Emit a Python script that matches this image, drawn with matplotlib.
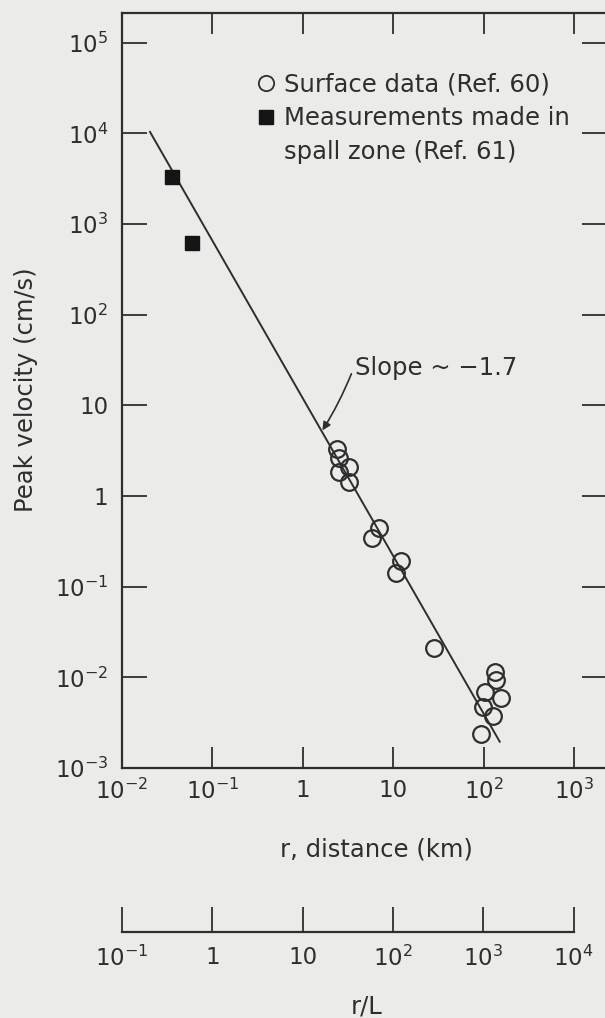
import matplotlib
matplotlib.use("Agg")
import matplotlib.pyplot as plt
from matplotlib.lines import Line2D

# values
spall_r = [0.036, 0.059]            # km
spall_v = [3300, 620]               # cm/s
surf_r = [2.37, 2.51, 3.27, 2.51, 3.27, 7.05, 5.9, 12.1, 10.7, 28,
          134, 139, 104, 155, 98, 127, 93]
surf_v = [3.27, 2.63, 2.1, 1.85, 1.43, 0.44, 0.342, 0.192, 0.14, 0.0212,
          0.0115, 0.0093, 0.0069, 0.0059, 0.0047, 0.0037, 0.0024]
fit_r = [0.0204, 151]
fit_v = [1.04e4, 1.95e-3]

x_ticks = [1e-2, 1e-1, 1, 10, 1e2, 1e3]
x_labels = ["$10^{-2}$", "$10^{-1}$", "1", "10", "$10^{2}$", "$10^{3}$"]
y_ticks = [1e-3, 1e-2, 1e-1, 1, 10, 1e2, 1e3, 1e4, 1e5]
y_labels = ["$10^{-3}$", "$10^{-2}$", "$10^{-1}$", "1", "10",
            "$10^{2}$", "$10^{3}$", "$10^{4}$", "$10^{5}$"]
rl_ticks = [1e-1, 1, 10, 1e2, 1e3, 1e4]
rl_labels = ["$10^{-1}$", "1", "10", "$10^{2}$", "$10^{3}$", "$10^{4}$"]

bg = "#ebebe9"
ink = "#2e2e2e"

plt.rcParams["font.family"] = ["DejaVu Sans"]
plt.rcParams["mathtext.default"] = "regular"
plt.rcParams["text.color"] = ink

W, H = 605, 1018
fig = plt.figure(figsize=(W / 100, H / 100), dpi=100, facecolor=bg)

# main axes (pixel box of the scan: left 122, right ~607, top 13, bottom 768)
ax = fig.add_axes([122 / W, 1 - 768 / H, (607 - 122) / W, (768 - 13) / H])
ax.set_facecolor(bg)
ax.set_xscale("log")
ax.set_yscale("log")
ax.set_xlim(1e-2, 2320)
ax.set_ylim(1e-3, 2.13e5)

ax.plot(fit_r, fit_v, color=ink, lw=1.4)
ax.plot(surf_r, surf_v, "o", ms=12, mfc="none", mec=ink, mew=1.6)
ax.plot(spall_r, spall_v, "s", ms=10.5, color="#151515")

ax.annotate("Slope ~ \u22121.7", xy=(1.65, 5.3), xytext=(3.75, 26),
            ha="left", va="center", fontsize=17.5, color=ink,
            arrowprops=dict(arrowstyle="-|>", color=ink, lw=1.2,
                            shrinkA=1, shrinkB=0, mutation_scale=12,
                            relpos=(0, 0.6),
                            connectionstyle="arc3,rad=-0.05"))

ax.set_xticks(x_ticks)
ax.set_xticklabels(x_labels)
ax.set_yticks(y_ticks)
ax.set_yticklabels(y_labels)
ax.minorticks_off()
ax.tick_params(axis="both", which="major", direction="in", color=ink,
               labelcolor=ink, labelsize=16.5, width=1.3,
               top=True, right=True)
ax.tick_params(axis="y", length=18, pad=10)
ax.tick_params(axis="x", length=15, pad=8)
for sp in ax.spines.values():
    sp.set_color(ink)
    sp.set_linewidth(1.6)

# legend, second label split over two lines
handles = [Line2D([], [], ls="none", marker="o", ms=11, mfc="none", mec=ink, mew=1.3),
           Line2D([], [], ls="none", marker="s", ms=10, color="#151515"),
           Line2D([], [], ls="none")]
labels = ["Surface data (Ref. 60)", "Measurements made in", "spall zone (Ref. 61)"]
ax.legend(handles, labels, loc="upper left", bbox_to_anchor=(0.276, 0.921),
          frameon=False, fontsize=17.5, handlelength=0.8, handletextpad=0.35,
          labelspacing=0.4, borderpad=0, borderaxespad=0, labelcolor=ink)

fig.text(26 / W, 1 - 390 / H, "Peak velocity (cm/s)", rotation=90,
         ha="center", va="center", fontsize=17.5, color=ink)
fig.text(376 / W, 1 - 850 / H, "r, distance (km)",
         ha="center", va="center", fontsize=17.5, color=ink)

# second scale r/L below
ax2 = fig.add_axes([122 / W, 1 - 932 / H, (573.5 - 122) / W, 0.02])
ax2.set_facecolor("none")
ax2.set_xscale("log")
ax2.set_xlim(rl_ticks[0], rl_ticks[-1])
ax2.set_xticks(rl_ticks)
ax2.set_xticklabels(rl_labels)
ax2.minorticks_off()
ax2.set_yticks([])
for side in ["top", "left", "right"]:
    ax2.spines[side].set_visible(False)
ax2.spines["bottom"].set_color(ink)
ax2.spines["bottom"].set_linewidth(1.6)
ax2.tick_params(axis="x", direction="in", length=18, width=1.3, color=ink,
                labelcolor=ink, labelsize=16.5, pad=10)
fig.text(367 / W, 1 - 1006 / H, "r/L", ha="center", va="center",
         fontsize=17.5, color=ink)

fig.savefig("out.png", dpi=100, facecolor=bg)
